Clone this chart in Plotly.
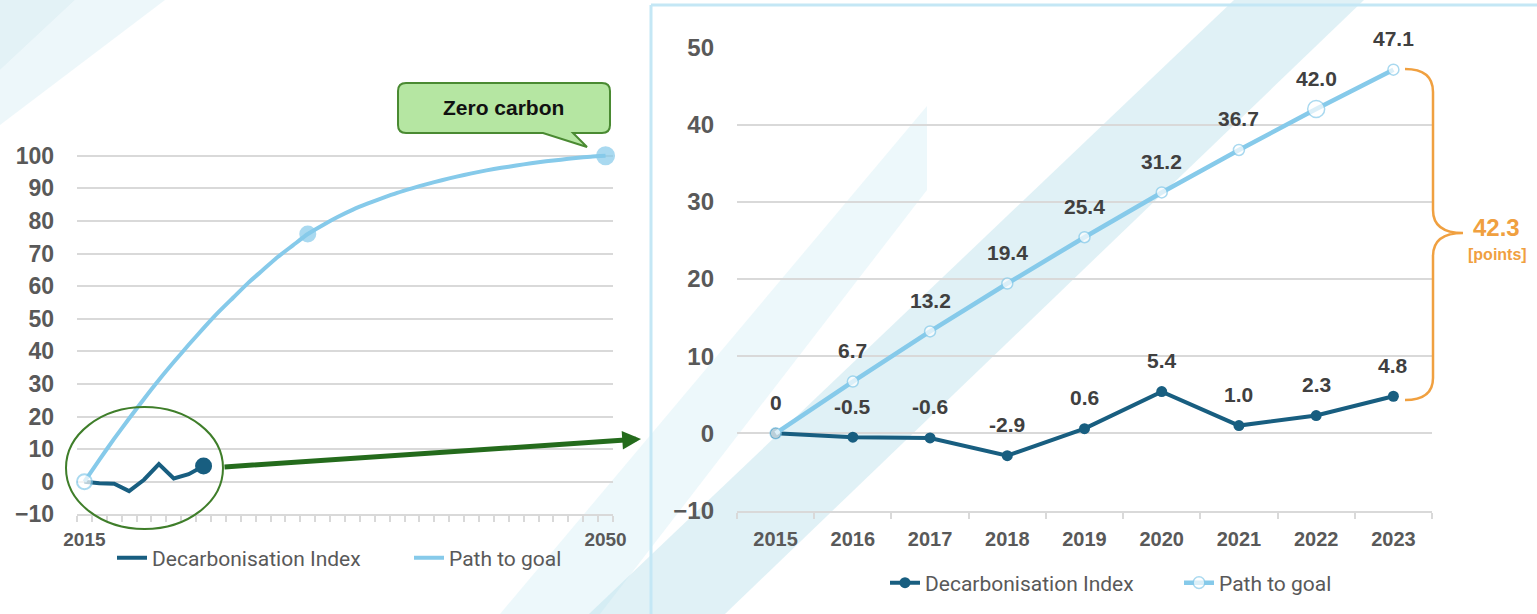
import plotly.graph_objects as go

W, H = 1537, 614

# ---------------- data ----------------
recent_years = [2015, 2016, 2017, 2018, 2019, 2020, 2021, 2022, 2023]
decarbonisation_index = [0.0, -0.5, -0.6, -2.9, 0.6, 5.4, 1.0, 2.3, 4.8]
path_to_goal = [0.0, 6.7, 13.2, 19.4, 25.4, 31.2, 36.7, 42.0, 47.1]

long_years = list(range(2015, 2051))
path_long = [0.0, 6.7, 13.2, 19.4, 25.4, 31.2, 36.7, 42.0, 47.1, 52.0,
             56.5, 61.0, 65.0, 69.0, 72.5, 76.0, 78.7, 81.2, 83.4, 85.3,
             87.0, 88.6, 90.0, 91.3, 92.5, 93.6, 94.6, 95.5, 96.3, 97.0,
             97.7, 98.3, 98.8, 99.3, 99.7, 100.0]
left_marker_years = [2015, 2030, 2050]
left_x_ticks = [2015, 2050]
series_names = ["Decarbonisation Index", "Path to goal"]
callout_text = "Zero carbon"
gap_unit = "[points]"

# ---------------- styles ----------------
DARK = "#185E80"
LIGHT = "#86CAEA"
GRID = "#D9D9D9"
AXIS_TXT = "#595959"
LABEL_TXT = "#404040"
ORANGE = "#F0A040"
GREEN_ARROW = "#246B1C"
GREEN_LINE = "#3F7E2A"
CALLOUT_FILL = "#B5E6A2"
CALLOUT_LINE = "#4A8A32"
PANEL = "#C4E7F5"
BOLD = "Liberation Sans, Arial, sans-serif"
LEG = "Liberation Sans Narrow, Roboto, sans-serif"


def X(x):
    return x / W


def Y(y):
    return 1 - y / H


def path(cmds):
    out = []
    for c in cmds:
        letter = c[0]
        pts = " ".join(f"{X(p[0]):.5f},{Y(p[1]):.5f}" for p in c[1:])
        out.append(letter + pts)
    return " ".join(out)


def lab(v):
    return "0" if v == 0 else f"{v:.1f}"


fig = go.Figure()

# ---------- left overview chart ----------
fig.add_trace(go.Scatter(x=recent_years, y=decarbonisation_index, mode="lines",
                         line=dict(color=DARK, width=4), name=series_names[0],
                         legend="legend", xaxis="x", yaxis="y", cliponaxis=False))
fig.add_trace(go.Scatter(x=long_years, y=path_long, mode="lines",
                         line=dict(color=LIGHT, width=4, shape="spline", smoothing=0.6),
                         name=series_names[1], legend="legend2", xaxis="x", yaxis="y",
                         cliponaxis=False))
lm_y = [path_long[long_years.index(yr)] for yr in left_marker_years]
fig.add_trace(go.Scatter(x=left_marker_years, y=lm_y, mode="markers",
                         marker=dict(size=[15, 15, 17],
                                     color=["white", LIGHT, LIGHT],
                                     line=dict(color=LIGHT, width=2)),
                         showlegend=False, xaxis="x", yaxis="y", cliponaxis=False))
fig.add_trace(go.Scatter(x=recent_years[-1:], y=decarbonisation_index[-1:], mode="markers",
                         marker=dict(size=17, color=DARK),
                         showlegend=False, xaxis="x", yaxis="y", cliponaxis=False))

# ---------- right detail chart ----------
fig.add_trace(go.Scatter(x=recent_years, y=decarbonisation_index, mode="lines+markers",
                         line=dict(color=DARK, width=4),
                         marker=dict(size=11, color=DARK),
                         name=series_names[0], legend="legend3",
                         xaxis="x2", yaxis="y2", cliponaxis=False))
fig.add_trace(go.Scatter(x=recent_years, y=path_to_goal, mode="lines+markers",
                         line=dict(color=LIGHT, width=4.5),
                         marker=dict(size=[11, 11, 11, 11, 11, 11, 11, 17, 11], color="white",
                                     line=dict(color=LIGHT, width=1.5)),
                         name=series_names[1], legend="legend4",
                         xaxis="x2", yaxis="y2", cliponaxis=False))

annotations = []
lab_font = dict(family=BOLD, size=21, color=LABEL_TXT, weight="bold")
for yr, v in zip(recent_years, decarbonisation_index):
    annotations.append(dict(x=yr, y=v, xref="x2", yref="y2", text=lab(v), showarrow=False,
                            xanchor="center", yanchor="middle", yshift=31, font=lab_font))
for yr, v in zip(recent_years[1:], path_to_goal[1:]):
    annotations.append(dict(x=yr, y=v, xref="x2", yref="y2", text=lab(v), showarrow=False,
                            xanchor="center", yanchor="middle", yshift=31, font=lab_font))

gap = path_to_goal[-1] - decarbonisation_index[-1]
annotations.append(dict(x=X(1496), y=Y(228), xref="paper", yref="paper", text=f"{gap:.1f}",
                        xanchor="center", yanchor="middle", showarrow=False,
                        font=dict(family=BOLD, size=24, color=ORANGE, weight="bold")))
annotations.append(dict(x=X(1497), y=Y(255), xref="paper", yref="paper", text=gap_unit,
                        xanchor="center", yanchor="middle", showarrow=False,
                        font=dict(family=BOLD, size=16, color=ORANGE, weight="bold")))
annotations.append(dict(x=X(504), y=Y(108), xref="paper", yref="paper", text=callout_text,
                        xanchor="center", yanchor="middle", showarrow=False,
                        font=dict(family=BOLD, size=21, color="#111111", weight="bold")))
annotations.append(dict(x=X(641), y=Y(439), xref="paper", yref="paper", text="",
                        showarrow=True, ax=223 - 641, ay=467 - 439, axref="pixel", ayref="pixel",
                        arrowhead=2, arrowsize=0.75, arrowwidth=5, arrowcolor=GREEN_ARROW))

shapes = []
# background decorative stripes
shapes.append(dict(type="path", xref="paper", yref="paper", layer="below", line=dict(width=0),
                   fillcolor="rgba(185,222,233,0.40)",
                   path=path([("M", (0, 0)), ("L", (75, 0)), ("L", (0, 70)), ("Z",)])))
shapes.append(dict(type="path", xref="paper", yref="paper", layer="below", line=dict(width=0),
                   fillcolor="rgba(210,236,243,0.40)",
                   path=path([("M", (75, 0)), ("L", (165, 0)), ("L", (0, 125)), ("L", (0, 70)), ("Z",)])))
shapes.append(dict(type="path", xref="paper", yref="paper", layer="below", line=dict(width=0),
                   fillcolor="rgba(222,242,247,0.55)",
                   path=path([("M", (927, 106)), ("L", (927, 190)), ("L", (600, 614)), ("L", (500, 614)), ("Z",)])))
shapes.append(dict(type="path", xref="paper", yref="paper", layer="below", line=dict(width=0),
                   fillcolor="rgba(180,222,233,0.42)",
                   path=path([("M", (1234, 0)), ("L", (1364, 0)), ("L", (725, 614)), ("L", (589, 614)), ("Z",)])))
# right panel border
shapes.append(dict(type="line", xref="paper", yref="paper", layer="below",
                   x0=X(651), x1=X(651), y0=Y(5), y1=Y(614), line=dict(color=PANEL, width=3)))
shapes.append(dict(type="line", xref="paper", yref="paper", layer="below",
                   x0=X(651), x1=X(1537), y0=Y(5), y1=Y(5), line=dict(color=PANEL, width=3)))
# ellipse highlight
shapes.append(dict(type="circle", xref="paper", yref="paper", layer="above",
                   x0=X(66), x1=X(223), y0=Y(529), y1=Y(407),
                   line=dict(color=GREEN_LINE, width=2)))
# callout bubble
shapes.append(dict(type="path", xref="paper", yref="paper", layer="above",
                   fillcolor=CALLOUT_FILL, line=dict(color=CALLOUT_LINE, width=2),
                   path=path([("M", (406, 83)), ("L", (602, 83)), ("Q", (610, 83), (610, 91)),
                              ("L", (610, 125)), ("Q", (610, 133), (602, 133)),
                              ("L", (573, 133)), ("L", (587, 147)), ("L", (543, 133)),
                              ("L", (406, 133)), ("Q", (398, 133), (398, 125)),
                              ("L", (398, 91)), ("Q", (398, 83), (406, 83)), ("Z",)])))
# curly brace
shapes.append(dict(type="path", xref="paper", yref="paper", layer="above",
                   line=dict(color=ORANGE, width=2.5),
                   path=path([("M", (1405, 69)), ("Q", (1433, 69), (1433, 92)),
                              ("L", (1433, 210)), ("Q", (1433, 233), (1463, 233)),
                              ("Q", (1433, 233), (1433, 256)), ("L", (1433, 378)),
                              ("Q", (1433, 400), (1405, 400))])))

tick_font_l = dict(family=BOLD, size=23, color=AXIS_TXT, weight="bold")
tick_font_r = dict(family=BOLD, size=24, color=AXIS_TXT, weight="bold")
xt_font_l = dict(family=BOLD, size=19, color=AXIS_TXT, weight="bold")
xt_font_r = dict(family=BOLD, size=20, color=AXIS_TXT, weight="bold")


def legend_at(x, y):
    return dict(x=X(x), y=Y(y), xanchor="left", yanchor="middle", orientation="h",
                bgcolor="rgba(0,0,0,0)", font=dict(family=LEG, size=21, color=AXIS_TXT),
                itemclick=False, itemdoubleclick=False)


fig.update_layout(
    template="none",
    width=W, height=H,
    margin=dict(l=0, r=0, t=0, b=0),
    paper_bgcolor="white", plot_bgcolor="rgba(0,0,0,0)",
    hovermode=False,
    showlegend=True,
    xaxis=dict(domain=[X(77), X(613)], range=[2014.5, 2050.5], tickmode="array",
               tickvals=left_x_ticks, ticktext=[str(v) for v in left_x_ticks], ticks="",
               showgrid=False, zeroline=False, showline=True, linecolor=GRID, linewidth=2,
               tickfont=xt_font_l, ticklabelstandoff=7, anchor="y",
               minor=dict(tickmode="linear", tick0=2014.5, dtick=1, ticks="outside",
                          ticklen=6, tickwidth=1.5, tickcolor=GRID, showgrid=False)),
    yaxis=dict(domain=[Y(514.3), Y(142.7)], range=[-10, 104], tickmode="linear", tick0=0, dtick=10,
               showgrid=True, gridcolor=GRID, gridwidth=1.6, zeroline=False, ticks="",
               tickfont=tick_font_l, ticklabelstandoff=22, anchor="x"),
    xaxis2=dict(domain=[X(737), X(1432)], range=[2014.5, 2023.5], tickmode="array",
                tickvals=recent_years, ticktext=[str(v) for v in recent_years], ticks="",
                showgrid=False, zeroline=False, showline=True, linecolor=GRID, linewidth=2,
                tickfont=xt_font_r, ticklabelstandoff=9, anchor="y2",
                minor=dict(tickmode="linear", tick0=2014.5, dtick=1, ticks="outside",
                           ticklen=6, tickwidth=1.5, tickcolor=GRID, showgrid=False)),
    yaxis2=dict(domain=[Y(510.5), Y(47.3)], range=[-10, 50], tickmode="linear", tick0=0, dtick=10,
                showgrid=True, gridcolor=GRID, gridwidth=1.6, zeroline=False, ticks="",
                tickfont=tick_font_r, ticklabelstandoff=22, anchor="x2"),
    legend=legend_at(112, 558),
    legend2=legend_at(409, 558),
    legend3=legend_at(885, 583),
    legend4=legend_at(1179, 583),
    annotations=annotations,
    shapes=shapes,
)

fig.write_html("out.html", config={"displayModeBar": False},
               post_script="document.body.style.margin='0';document.body.style.overflow='hidden';")
